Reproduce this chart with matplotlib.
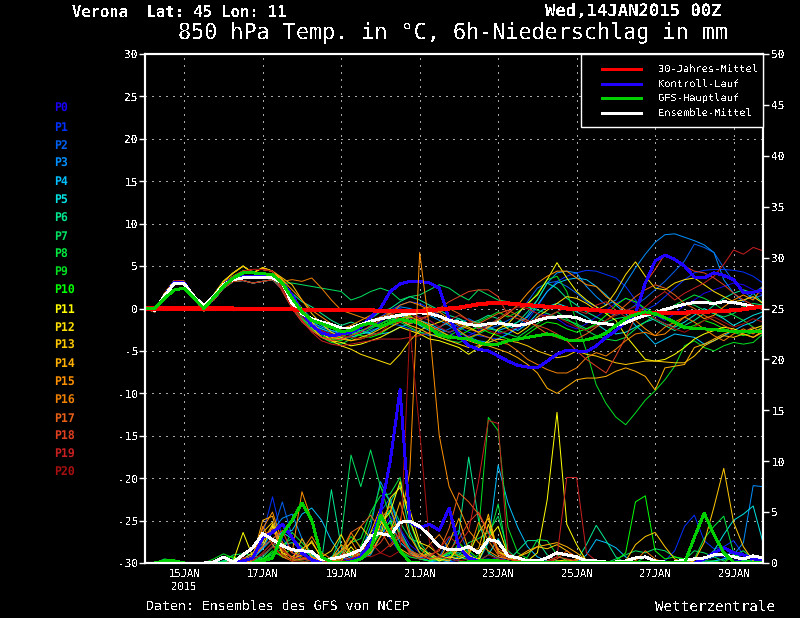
#imports
import numpy as np
import matplotlib
matplotlib.use("Agg")
import matplotlib.pyplot as plt
from matplotlib.lines import Line2D
from matplotlib.patches import Rectangle

plt.rcParams['font.family'] = ['DejaVu Sans Mono']
plt.rcParams['axes.unicode_minus'] = False
plt.rcParams['lines.antialiased'] = False
plt.rcParams['text.antialiased'] = False
plt.rcParams['text.hinting'] = 'none'

#labels and colors
member_names = ['P%d' % i for i in range(21)]
member_colors = ['#1a00f0', '#0030ff', '#0060f0', '#0090ff', '#00c0ff', '#00e0e0', '#00e890',
                 '#00e060', '#00e840', '#00e020', '#00ff00', '#ffff00', '#ffe000', '#ffc800',
                 '#ffb000', '#ff9000', '#f08000', '#e86018', '#e04020', '#c82020', '#a81010']
legend_names = ['30-Jahres-Mittel', 'Kontroll-Lauf', 'GFS-Hauptlauf', 'Ensemble-Mittel']
legend_colors = ['#ff0000', '#2000ff', '#00d000', '#ffffff']
date_ticks = [4, 12, 20, 28, 36, 44, 52, 60]
date_labels = ['15JAN\n2015', '17JAN', '19JAN', '21JAN', '23JAN', '25JAN', '27JAN', '29JAN']

#temperature, 6h steps, the members share the first 14 steps
start_a = [0, -0.4, 1.8, 3.3, 3.2, 1.2, -0.3, 1.4, 3.0, 3.8, 4.4, 4.6, 4.6, 4.4]
start_b = [0, -0.2, 1.6, 3.1, 3.0, 1.3, 0.2, 1.0, 2.4, 3.2, 3.3, 3.0, 3.2, 3.4]
start_c = [0, -0.3, 1.7, 3.2, 3.0, 1.3, 0.1, 1.6, 3.2, 4.2, 5.0, 4.2, 4.8, 4.4]

T_P0 = [2.4,0.6,-1.0,-2.2,-2.8,-3.2,-3.4, -3.2,-2.8,-2.2,-1.6,-0.6,0.0,-0.4,-1.0, -1.4,-2.2,-2.8,-3.6,-3.2,-2.6,-2.2,-2.8, -3.0,-2.4,-1.8,-1.0,-0.6,-1.2,-2.0,-2.4, -1.8,-1.0,-0.2,0.6,1.2,0.6,-0.2,-0.8, -1.4,-0.6,0.4,1.0,1.8,2.2,2.6,3.0, 2.8,2.2,1.6]
T_P1 = [2.8,1.0,-0.4,-1.6,-2.4,-3.0,-3.0, -2.6,-2.0,-1.6,-1.0,-0.2,0.4,0.8,0.6, 0.0,-0.8,-1.6,-2.2,-2.8,-3.2,-3.4,-3.6, -3.0,-2.2,-1.4,0.2,2.0,3.2,3.8,4.2, 4.5,4.4,4.0,3.6,2.6,1.0,-0.2,0.4, 1.4,2.4,3.4,4.2,4.5,4.6,4.6,4.5, 4.3,3.8,3.0]
T_P2 = [2.6,0.8,-0.8,-1.8,-2.6,-3.2,-3.6, -3.4,-3.0,-2.6,-2.2,-1.8,-2.0,-2.4,-2.8, -3.2,-3.0,-2.4,-1.8,-1.2,-1.8,-2.4,-2.0, -1.4,-0.8,0.8,2.4,3.0,3.2,2.6,1.8, 0.8,0.2,-0.4,-0.8,-0.4,0.4,1.2,2.2, 3.2,4.4,5.6,7.6,7.2,6.6,4.8,3.2, 2.0,1.2,1.6]
T_P3 = [3.0,1.5,0.0,-1.2,-2.0,-2.6,-3.0, -3.0,-2.6,-2.2,-1.4,-0.6,0.2,0.0,-0.4, -0.8,-1.4,-2.0,-2.8,-3.4,-3.8,-4.0,-3.6, -3.0,-2.2,-0.8,1.0,3.0,4.2,4.4,4.2, 2.6,1.4,0.4,1.0,3.0,4.8,6.4,7.8, 8.7,8.8,8.4,8.0,7.5,6.6,3.4,1.8, 0.8,1.8,2.6]
T_P4 = [2.6,0.6,-0.8,-1.6,-2.2,-2.6,-2.8, -2.4,-2.6,-3.0,-3.0,-2.8,-2.2,-1.8,-1.4, -1.8,-2.4,-2.8,-2.4,-1.8,-1.6,-2.2,-2.6, -2.2,-1.6,-1.0,0.4,2.0,3.0,3.4,3.6, 3.4,2.6,1.6,0.4,-0.6,-2.0,-3.0,-4.2, -3.6,-3.0,-3.2,-3.4,-4.2,-3.8,-3.2,-2.6, -2.0,-1.6,-0.8]
T_P5 = [2.2,0.4,-1.2,-2.0,-2.4,-2.8,-3.2, -3.4,-3.0,-2.8,-2.2,-1.6,-0.8,-1.2,-2.0, -2.6,-2.2,-1.6,-1.2,-1.8,-2.4,-1.8,-1.4, -2.0,-2.6,-1.8,-0.6,0.2,0.6,0.2,-0.4, -1.0,-1.8,-2.6,-3.0,-2.8,-2.2,-1.6,-1.2, -1.8,-2.2,-1.6,-0.8,0.0,-0.6,-1.2,-2.0, -1.4,-0.8,-0.4]
T_P6 = [2.8,1.8,0.8,0.2,-0.6,-1.4,-2.0, -1.6,-2.0,-1.2,-0.4,0.0,0.8,1.4,1.0, 0.4,-0.2,-0.8,-1.2,-1.8,-1.4,-0.8,-1.2, -2.2,-1.6,-0.4,1.0,3.0,2.4,1.2,0.4, -0.4,-1.0,-1.6,-2.2,-1.8,-1.2,-0.8,-1.4, -2.0,-2.6,-2.0,-1.4,-0.6,0.4,1.2,1.8, 2.2,1.8,0.6]
T_P7 = [3.0,3.0,2.8,2.6,2.4,2.2,2.0, 1.0,1.4,2.0,2.4,2.0,1.0,1.4,1.6, 2.2,2.8,2.4,1.6,1.0,2.2,1.6,1.0, 0.8,0.4,0.2,-0.2,-0.6,-1.0,-1.4,-1.8, -2.4,-2.0,-1.6,-1.2,-1.0,-0.6,-0.4,-0.8, -0.2,0.2,0.6,0.4,-0.2,-0.6,-1.0,-0.6, 0.2,0.6,0.4]
T_P8 = [2.6,0.6,-1.0,-2.4,-3.4,-4.0,-4.2, -3.6,-3.0,-2.4,-1.8,-1.2,-1.6,-2.2,-2.8, -3.0,-3.4,-3.8,-4.0,-3.6,-3.0,-2.4,-2.6, -3.0,-3.4,-2.6,-1.8,-1.0,-0.4,-1.2,-2.0, -2.6,-3.2,-3.6,-3.8,-3.4,-2.4,-1.6,-0.8, -0.4,0.4,1.0,1.6,1.2,0.6,-0.2,-0.8, -1.4,-2.2,-3.0]
T_P9 = [2.4,0.4,-1.2,-2.6,-3.2,-3.6,-3.8, -3.2,-2.6,-2.2,-1.8,-1.4,-0.6,-1.0,-1.6, -2.2,-2.8,-3.2,-2.6,-2.0,-1.6,-1.0,-0.4, -1.0,-0.4,0.4,1.8,3.4,3.8,2.0,-1.6, -5.0,-9.0,-11.2,-12.8,-13.7,-12.3,-10.8,-9.7, -8.4,-6.8,-4.4,-3.8,-4.6,-5.0,-4.4,-4.0, -4.2,-4.0,-3.0]
T_P10 = [3.0,1.0,-0.6,-2.0,-3.0,-3.6,-3.4, -2.8,-3.2,-3.4,-3.0,-2.2,-1.4,-0.8,-1.8, -2.4,-3.0,-3.6,-3.2,-2.6,-2.2,-2.8,-3.2, -3.6,-3.8,-3.0,-2.2,-1.6,-1.8,-2.4,-2.8, -2.4,-1.8,-0.8,0.4,1.2,0.8,0.0,-0.6, -1.2,-1.8,-2.4,-2.0,-1.4,-1.8,-2.4,-2.8, -3.2,-2.8,-2.2]
T_P11 = [3.2,1.2,-0.6,-2.2,-3.4,-3.8,-4.0, -4.4,-4.2,-3.8,-3.4,-2.8,-2.2,-2.6,-3.0, -3.6,-3.8,-4.2,-4.6,-5.4,-4.6,-3.8,-2.4, -1.8,-0.6,0.6,1.6,3.4,5.4,3.6,2.0, 1.0,0.2,-0.6,-1.4,-3.2,-4.6,-6.0,-6.2, -6.0,-5.4,-4.6,-3.6,-3.0,-2.6,-2.2,-2.4, -2.8,-2.4,-2.0]
T_P12 = [3.4,1.6,0.0,-1.6,-2.8,-3.8,-4.4, -4.8,-5.4,-5.8,-6.2,-6.6,-5.4,-3.8,-2.6, -2.0,-1.6,-1.2,-1.8,-2.2,-2.8,-2.2,-1.6, -2.4,-3.0,-2.2,-1.0,-0.2,0.6,1.4,1.2, 0.6,-0.2,0.4,2.0,4.0,5.5,3.8,2.4, 2.2,3.0,3.4,3.6,2.8,2.0,1.4,0.8, 1.0,1.4,0.6]
T_P13 = [3.6,2.8,1.0,-0.6,-1.8,-2.8,-3.4, -3.8,-3.4,-3.0,-2.4,-1.8,-1.4,-2.0,-2.4, -3.0,-3.4,-3.8,-4.2,-4.6,-4.4,-4.0,-3.6, -3.8,-4.0,-4.4,-5.0,-5.4,-5.8,-5.6,-5.0, -5.4,-5.6,-6.0,-6.4,-6.6,-6.4,-6.2,-6.2, -6.3,-6.4,-6.4,-5.6,-4.4,-3.8,-3.2,-3.4, -3.0,-3.4,-2.8]
T_P14 = [3.2,1.4,-0.4,-2.0,-3.0,-3.4,-3.6, -3.8,-3.6,-3.2,-2.8,-2.2,-1.6,-1.0,-1.4, -2.0,-2.6,-3.2,-3.4,-3.8,-4.2,-4.4,-4.8, -5.2,-5.8,-6.6,-7.6,-9.4,-10.0,-9.2,-8.4, -8.2,-8.2,-8.0,-7.4,-7.0,-7.4,-8.0,-9.6, -7.0,-6.8,-6.6,-4.6,-4.2,-3.6,-3.0,-2.6, -3.0,-3.4,-2.6]
T_P15 = [3.4,2.2,1.0,-0.2,-1.0,-1.8,-2.4, -2.0,-1.4,-0.8,-0.4,-0.6,-1.2,-0.8,-0.2, 0.2,-0.4,-1.2,-2.0,-2.4,-2.8,-2.2,-1.4, -0.6,0.4,1.8,3.0,3.8,4.4,4.4,3.6, 2.8,2.6,1.4,0.6,-0.2,-1.4,-2.4,-3.2, -3.0,-2.0,-1.0,-0.4,-1.2,-0.8,0.2,1.0, 1.6,1.0,2.6]
T_P16 = [3.2,3.4,3.2,3.6,2.4,1.0,-0.2, -0.6,-1.0,-1.4,-1.0,-0.6,0.4,0.8,0.4, -0.2,-1.0,-1.8,-2.6,-3.4,-3.0,-3.4,-4.0, -4.2,-5.0,-6.0,-6.6,-7.2,-7.6,-7.6,-7.0, -5.8,-5.2,-5.6,-4.8,-3.8,-3.0,-2.8,-3.2, -2.2,-1.6,-1.0,-1.6,-2.4,-3.2,-3.8,-3.0, -2.4,-3.0,-2.2]
T_P17 = [2.4,0.2,-1.4,-2.6,-3.4,-3.6,-3.2, -2.8,-2.2,-1.8,-1.2,-0.8,-1.4,-1.8,-1.4, -0.8,-0.4,0.0,-0.6,-1.4,-1.8,-1.2,-0.6, -0.2,-0.8,-1.4,-2.2,-3.0,-3.4,-3.8,-3.6, -3.0,-2.2,-1.4,-0.6,0.4,1.4,2.2,2.8, 2.4,1.6,0.6,0.0,-0.8,-1.4,-2.0,-2.6, -2.8,-2.2,-3.0]
T_P18 = [2.0,0.0,-1.6,-2.6,-3.4,-3.8,-3.6, -3.2,-2.8,-2.0,-1.4,-0.8,-0.2,-0.6,-1.2, -0.8,0.0,0.8,1.4,2.0,2.2,2.2,1.4, -0.8,-1.2,-1.6,-2.0,-2.4,-3.0,-3.8,-5.0, -6.0,-6.8,-7.6,-5.6,-3.4,-1.0,3.0,4.6, 6.4,5.8,5.0,4.4,4.2,3.6,2.8,1.8, 1.0,0.4,-0.2]
T_P19 = [2.2,0.2,-1.4,-2.8,-3.8,-4.2,-4.4, -4.2,-4.0,-3.8,-3.6,-3.6,-3.6,-3.4,-3.2, -2.8,-2.2,-1.4,-0.8,-1.4,-2.4,-2.0,-1.2, -0.4,0.2,0.0,-0.6,-1.0,-0.4,0.2,-0.2, -0.6,0.4,0.8,-0.2,-1.0,-0.6,0.2,1.2, 2.0,1.0,1.8,2.4,3.0,3.8,5.2,6.9, 6.4,7.2,6.8]
T_P20 = [2.4,0.4,-1.0,-2.0,-2.6,-3.0,-3.2, -3.4,-3.6,-3.2,-2.8,-1.8,-1.6,-1.2,-1.0, -1.4,-2.2,-2.8,-2.2,-1.6,-2.0,-2.6,-3.0, -2.6,-2.2,-1.6,-1.2,-0.8,-1.0,-1.6,-2.2, -2.6,-2.0,-1.4,-0.8,-0.2,0.2,-0.4,-1.2, -1.8,-2.4,-2.8,-2.2,-1.4,-1.0,-1.6,-2.2, -1.8,-1.2,-1.6]
temp_members = [T_P0, T_P1, T_P2, T_P3, T_P4, T_P5, T_P6, T_P7, T_P8, T_P9, T_P10,
                T_P11, T_P12, T_P13, T_P14, T_P15, T_P16, T_P17, T_P18, T_P19, T_P20]
temp_starts = [start_b, start_b, start_a, start_b, start_a, start_b, start_c, start_a, start_b, start_c, start_a,
               start_c, start_c, start_a, start_c, start_a, start_b, start_a, start_a, start_b, start_a]

temp_clim = [0,0,0,0,0,0,0,0,0,0,-0.1,-0.1,-0.1,-0.1,-0.1,-0.1, -0.2,-0.2,-0.2,-0.2,-0.2,-0.2,-0.2,-0.2, -0.3,-0.3,-0.3,-0.3,-0.3,-0.2,-0.1,0.0, 0.1,0.3,0.5,0.6,0.6,0.6,0.5,0.4, 0.3,0.2,0.2,0.0,-0.1,-0.1,-0.2,-0.3, -0.4,-0.4,-0.5,-0.5,-0.5,-0.5,-0.5,-0.5, -0.4,-0.4,-0.3,-0.3,-0.2,-0.1,0.1,0.2]
temp_ctrl = [0,-0.2,1.5,3.1,3.0,1.3,0.2,1.4,2.8,3.6,3.8,3.8,3.8,3.8, 3.0,1.6,-0.4,-2.0,-2.9,-3.2,-3.0,-2.8,-2.2,-1.0,0.0,2.0,2.9,3.2,3.2,3.0,2.4,-1.2,-3.2,-4.4,-4.8,-5.0,-5.6,-6.2,-6.7,-6.9,-7.0,-6.2,-5.4,-4.9,-5.0,-5.1,-4.4,-3.4,-2.6,-1.6,-0.6,3.0,5.6,6.3,5.8,5.0,3.7,3.6,4.2,3.9,3.4,1.9,1.9,2.2]
temp_gfs = [0,0,1.2,2.2,2.4,1.2,0.0,1.3,2.6,3.6,4.2,4.2,4.1,4.0, 3.0,1.2,-0.4,-1.4,-1.8,-2.2,-2.7,-2.6,-2.0,-1.7,-2.1,-1.7,-1.3,-1.5,-1.7,-2.3,-3.2,-3.3,-3.5,-3.6,-4.0,-4.3,-4.2,-3.8,-3.6,-3.4,-3.2,-3.0,-3.2,-3.7,-3.8,-3.7,-3.4,-2.9,-2.0,-1.2,-0.7,-0.4,-0.6,-1.1,-1.6,-2.2,-2.4,-2.4,-2.5,-2.6,-2.7,-2.7,-2.7,-2.7]
temp_mean = [0,-0.2,1.5,3.0,2.9,1.4,0.3,1.4,2.8,3.4,3.6,3.6,3.6,3.6, 3.0,0.6,-0.6,-1.2,-1.6,-1.9,-2.3,-2.3,-1.9,-1.5,-1.2,-1.0,-0.8,-0.6,-0.5,-0.6,-0.9,-1.4,-1.6,-1.9,-2.0,-1.8,-1.7,-1.9,-2.0,-1.8,-1.4,-1.1,-1.0,-0.9,-1.1,-1.5,-1.7,-1.8,-2.0,-1.7,-1.2,-0.8,-0.5,-0.1,0.2,0.5,0.7,0.7,0.6,0.8,0.7,0.5,0.2,0.2]

#precipitation, 6h steps
R_P0 = [0,0,0,0,0,0,0,0, 0.2,0.4,0.2,0.8,2.4,3.2,2.0,1.0, 0.4,0.2,0,0,0.2,0.6,0.4,1.8, 3.0,4.6,3.4,1.8,1.0,0.4,0.2,0.8, 0.2,0,0,0.2,0.6,0.2,0,0, 0,0,0,0,0.2,0.3,0,0, 0,0,0,0,0,0,0,0, 0,0.4,0.8,0.6,0.3,0.2,0.2,0.2]
R_P1 = [0,0,0,0,0,0,0,0, 0,0.1,0.4,1.0,2.8,6.5,2.4,1.2, 0.8,0.4,0,0,0.1,0.3,0.6,1.2, 3.6,2.4,1.0,0.6,0.4,1.0,0.4,0.2, 0,0,0.3,0.4,0.2,0,0,0, 0,0,0,0,0,0,0,0, 0,0,0,0,0,0.2,1.2,3.6, 4.7,2.2,1.4,1.6,2.2,0.8,0.2,0.2]
R_P2 = [0,0,0,0,0,0,0,0, 0.1,0.2,0.1,0.6,1.8,3.0,6.0,2.6, 1.0,0.2,0.2,0,0,0.2,0.4,2.2, 5.0,6.4,3.2,1.2,0.6,0.2,0.6,2.4, 3.2,1.0,0.2,0,0,0.2,0,0, 0,0,0,0,0,0,0,0, 0,0,0,0,0,0,0,0, 0,0.2,0.6,0.8,1.0,0.4,0.6,0.2]
R_P3 = [0,0,0,0,0,0,0,0, 0.2,0.3,0.2,0.4,1.4,3.2,4.4,4.8, 2.4,0.8,0,0.2,0.6,0.2,1.0,3.6, 8.0,6.0,3.2,1.4,0.6,0.2,0.2,0.4, 0.2,0.1,0,0,0,0,0,0, 0,0,0,0,0,0,0,0, 0,0,0,0,0,0,0,0, 0,0.1,0.2,0.4,0.8,2.0,7.6,7.5]
R_P4 = [0,0,0,0,0,0,0,0, 0,0.2,0.4,0.6,1.4,2.4,3.0,3.2, 4.8,5.4,4.2,2.2,0.8,0.2,0.4,0.8, 2.6,4.2,2.0,1.2,0.4,0.2,0,0.2, 0.6,0.3,0.2,2.0,9.6,5.9,3.5,1.6, 0.6,0.2,0,0,0,0.8,2.3,2.0, 1.5,0.6,0,0,0,0,0,0, 0,0,0.2,0.4,0.8,0.2,0.2,0.1]
R_P5 = [0,0,0,0,0,0,0,0, 0.1,0.3,0.2,0.3,0.8,1.6,3.0,2.4, 1.4,0.6,0.2,0.6,1.2,0.4,1.4,3.0, 4.0,5.2,2.8,1.0,0.4,0.2,0.4,1.0, 1.0,0.4,0.2,0.8,2.4,0.8,0.2,0, 0,0,0,0,0,0,0.2,0, 0,0,0,0,0,0,0,0, 0,0.4,1.2,2.8,4.2,4.8,5.6,2.0]
R_P6 = [0,0,0.3,0.1,0,0,0,0, 0.2,0.3,0.2,0.2,0.6,1.6,1.8,2.0, 1.4,0.8,0.2,7.2,1.6,0.6,0.8,1.4, 3.2,6.0,7.6,3.0,1.0,0.4,0.6,0.8, 3.0,10.4,4.2,1.0,0.4,0.2,1.2,2.2, 2.2,0.8,0.2,0,0.2,1.8,3.7,2.2, 0.6,0,0,0,0,0,0,0, 0,0,0,0,0,0,0,0]
R_P7 = [0,0,0.4,0.2,0,0,0,0, 0.2,0.8,0.9,0.8,0.4,1.0,1.8,2.4, 1.6,0.6,0.2,0.4,2.6,10.6,7.5,11.1, 7.5,6.0,4.0,2.4,2.0,0.8,0.4,0.6, 0.8,2.0,2.4,3.0,4.6,1.2,0.4,0.2, 0,0,0,0,0.2,0,0,0, 0.4,0.8,1.2,1.0,1.4,1.2,0.6,0.3, 1.2,1.0,0.6,0.2,0.8,1.2,0.4,0.2]
R_P8 = [0,0,0.2,0.3,0,0,0,0, 0.1,0.4,0.3,0.2,0.4,0.8,1.4,3.0, 2.0,1.0,0.4,0.2,1.0,2.0,2.4,5.0, 6.6,6.8,8.4,4.0,1.4,0.6,0.4,1.2, 0.8,0.2,0.8,2.2,5.8,0.6,0.2,0.6, 2.3,2.2,0.8,0.2,0,0,0,0, 0,0,0,0.6,0,0,0,0, 0.4,2.4,3.6,4.6,1.0,0.2,0.1,0.1]
R_P9 = [0,0,0,0,0,0,0,0.4, 0.9,0.5,0.3,0.1,0.3,1.0,0.8,1.4, 0.4,0.2,0,0.2,1.2,2.6,1.6,4.2, 7.6,4.4,3.0,1.2,0.8,0.4,0.2,0.4, 2.0,1.0,3.0,14.3,13.0,3.5,1.0,0.4, 0,0,0,0,0,0,0,0, 0,0,0,0,0,0,0,0, 0,0,0,0,0,0,0,0]
R_P10 = [0,0,0,0,0,0,0,0.2, 0.6,0.6,0.3,0.1,0.4,1.2,0.6,0.4, 0.2,0,0,0.2,0.6,1.2,0.8,1.4, 3.0,4.0,1.2,0.6,0.4,0.2,0.6,1.0, 0.6,1.2,0.4,0.2,0,0,0,0, 0,0,0,0,0,0,0,0, 0.2,1.0,6.0,6.6,1.2,0.4,0.6,0.4, 0.4,0.2,0.2,0,0.8,0.4,0.1,0]
R_P11 = [0,0,0,0,0,0,0,0, 0,0.2,3.0,0.6,1.6,3.6,0.8,0.2, 0.4,0.6,0,0.2,0.2,1.6,0.4,1.2, 3.8,5.0,8.0,4.2,1.6,0.8,0.2,0.6, 0.4,0.8,0.2,2.4,3.6,0.8,0.4,0.2, 1.0,6.2,14.8,3.8,1.8,0.2,0,0, 0,0,0,0,0,0,0,0, 0,0,0,0,0,0,0,0]
R_P12 = [0,0,0,0,0,0,0,0, 0,0.1,0.4,1.0,2.0,3.8,1.0,0.6, 1.4,2.0,0.6,1.2,2.8,0.8,0.4,1.0, 2.6,6.4,7.4,5.2,2.0,1.6,0.8,0.4, 1.4,0.6,0.4,3.8,1.2,0.6,0.2,0.2, 0,0,0.2,0.3,0.2,0,0,0, 0,0,0,0,0,0,0,0, 0,0,0,0,0,0,0,0]
R_P13 = [0,0,0,0,0,0,0,0, 0,0,0.2,0.6,3.0,4.0,1.6,0.4, 0.8,2.2,0.4,0.4,1.2,2.0,3.6,2.4, 4.2,2.6,1.4,0.8,0.6,1.0,0.4,0.2, 1.8,0.8,3.0,4.4,1.0,0.6,0.6,1.0, 1.6,1.4,1.8,1.2,0.4,0.2,0,0, 0,0.2,1.8,2.6,3.0,1.6,0.4,0, 0.2,2.0,5.5,9.3,4.0,1.6,0.2,0.1]
R_P14 = [0,0,0,0,0,0,0,0, 0,0.1,0.2,0.6,4.2,4.6,1.0,0.2, 2.4,0.6,0.2,0.4,1.8,1.0,0.6,3.0, 5.4,3.0,6.0,2.6,1.0,0.4,0.4,2.0, 4.4,1.2,1.4,4.8,1.0,0.8,0.6,1.2, 1.6,1.8,2.0,1.6,1.0,0.3,0,0, 0,0,0,0,0,0,0,0, 0,0,0,0,0,0,0,0]
R_P15 = [0,0,0,0,0,0,0,0, 0,0,0.2,0.8,3.4,5.0,2.0,1.0, 7.0,4.2,0.4,0.2,0.4,2.2,0.6,1.0, 2.6,3.4,4.0,9.0,30.5,23.0,12.5,7.5, 5.5,3.2,2.0,1.2,0.6,0.4,0.2,0, 0,0,0,0,0,0,0,0, 0,0,0,0,0,0,0,0, 0,0,0,0,0,0,0,0]
R_P16 = [0,0,0,0,0,0,0,0, 0,0,0.1,0.4,3.6,1.8,0.6,0.2, 1.2,2.6,1.0,0.4,1.2,3.0,1.4,2.4, 4.2,5.6,2.4,1.2,0.6,1.8,2.8,1.4, 0.6,1.0,4.0,2.2,0.8,0.4,0.2,0, 0,0,0,0,0.4,0.2,0,0, 0,0,0.2,1.2,0.4,0,0,0, 0,0,0,0,0,0,0,0]
R_P17 = [0,0,0,0,0,0,0,0, 0,0,0.1,0.2,2.6,3.4,1.2,0.6, 0.4,0.6,0.2,0.2,0.6,3.0,3.6,4.7, 3.2,1.6,2.6,1.0,0.6,0.8,1.2,3.4, 6.9,6.0,4.8,3.0,1.4,0.8,0.2,0.2, 0,0,0.4,1.2,0.6,0.2,0,0, 0,0,0,0,0,0,0,0, 0,0,0,0,0,0,0,0]
R_P18 = [0,0,0,0,0,0,0,0, 0,0.1,0.3,0.6,1.6,2.4,3.2,1.0, 0.6,0.2,0,0.2,0.8,1.0,0.4,1.2, 2.0,3.4,2.4,1.2,0.8,0.4,0.6,1.2, 2.4,4.0,5.0,3.0,1.0,0.4,0.2,0, 0,0.2,0.6,0.4,0.2,0,0,0, 0,0,0,0,0,0,0,0, 0,0,0,0,0,0,0,0]
R_P19 = [0,0,0,0,0,0,0,0, 0,0.2,0.6,0.2,1.0,2.0,1.4,0.4, 0.4,0.2,0,0.4,0.6,0.4,1.2,2.0, 1.0,1.8,3.0,0.8,0.4,0.6,1.4,2.6, 1.8,3.2,8.0,14.0,13.7,1.0,0.4,0.2, 0,0,0.6,8.4,8.4,1.0,0.2,0, 0,0,0,0,0,0,0,0, 0,0,0,0,0,0,0,0]
R_P20 = [0,0,0,0,0,0,0,0.2, 0.6,0.1,0.4,0.4,0.8,1.6,0.8,0.2, 0.2,0,0,0,0.2,0.4,0.8,0.6, 1.0,0.6,1.2,23.0,13.0,2.0,0.6,0.4, 0.2,0.4,0.2,0.8,0.4,0.2,0,0, 0,0,0,0,0,0,0,0, 0,0,0,0,0,0,0,0, 0,0,0,0,0,0,0,0]
rain_members = [R_P0, R_P1, R_P2, R_P3, R_P4, R_P5, R_P6, R_P7, R_P8, R_P9, R_P10,
                R_P11, R_P12, R_P13, R_P14, R_P15, R_P16, R_P17, R_P18, R_P19, R_P20]

rain_ctrl = [0,0,0,0,0,0,0,0, 0,0,0.2,0.5,2.5,3.0,3.8,2.5, 1.0,0.3,0,0,0,0.2,0.6,2.0, 5.0,10.0,17.0,4.0,3.5,3.8,3.2,5.4, 1.6,0.5,0.2,0,0,0,0,0, 0,0,0,0,0,0,0,0, 0,0,0,0,0,0,0,0, 0,0.4,1.0,1.5,1.0,0.8,0.4,0.3]
rain_gfs = [0,0,0.2,0.2,0,0,0,0, 0,0,0,0,0.2,0.5,2.8,4.2, 5.9,4.2,0.6,0.1,0.1,0.1,0.4,1.3, 4.7,3.0,1.2,0.1,0,0,0,0, 0,0.1,0.2,0.2,0.2,0.1,0.1,0.1, 0.1,0.1,0.1,0.1,0.1,0.1,0.1,0.1, 0.1,0.1,0.1,0.1,0.1,0.1,0.1,0, 2.5,4.9,2.8,1.0,0.1,0.1,0.1,0.1]
rain_mean = [0,0,0.1,0.1,0,0,0,0.1, 0.6,0.1,0.8,1.5,2.9,2.3,1.7,1.3, 1.2,1.1,0.3,0.4,0.6,0.9,1.3,2.7, 2.9,2.7,4.0,4.1,3.6,2.7,1.6,1.3, 1.3,1.6,1.0,2.3,2.1,0.7,0.5,0.2, 0.2,0.5,1.0,0.8,0.6,0.2,0.2,0.1, 0.1,0.2,0.5,0.6,0.2,0.1,0.1,0.3, 0.4,0.5,0.8,0.8,0.6,0.4,0.7,0.5]


#pixel helpers for the parts placed on the figure
def fx(px):
    return px / 800

def fy(py):
    return 1 - py / 618

def plot():
    fig = plt.figure(figsize=(8, 6.18), facecolor='black')
    ax = fig.add_axes([fx(145), fy(563), (763 - 145) / 800, (563 - 54) / 618], facecolor='black')
    ax2 = ax.twinx()

    #members go first, the thick lines on top
    for start, temp, rain, color in zip(temp_starts, temp_members, rain_members, member_colors):
        series = start + temp
        ax.plot(range(len(series)), series, color=color, lw=0.72, antialiased=True)
        ax2.plot(range(len(rain)), rain, color=color, lw=0.72, antialiased=True)

    ax.plot(range(len(temp_ctrl)), temp_ctrl, color=legend_colors[1], lw=1.4)
    ax.plot(range(len(temp_mean)), temp_mean, color=legend_colors[3], lw=1.4)
    ax.plot(range(len(temp_clim)), temp_clim, color=legend_colors[0], lw=2.2)
    ax.plot(range(len(temp_gfs)), temp_gfs, color=legend_colors[2], lw=1.4)
    ax2.plot(range(len(rain_ctrl)), rain_ctrl, color=legend_colors[1], lw=1.4)
    ax2.plot(range(len(rain_mean)), rain_mean, color=legend_colors[3], lw=1.4)
    ax2.plot(range(len(rain_gfs)), rain_gfs, color=legend_colors[2], lw=1.4)

    #scales
    ax.set_xlim(0, 63)
    ax.set_ylim(-30, 30)
    ax2.set_ylim(0, 50)
    ax.set_yticks(range(-30, 31, 5))
    ax.set_yticklabels([str(v) for v in range(-30, 31, 5)])
    ax2.set_yticks(range(0, 51, 5))
    ax.set_xticks(date_ticks)
    ax.set_xticklabels(date_labels)
    ax.tick_params(axis='y', colors='white', labelsize=8, length=4, width=1, pad=1)
    ax.tick_params(axis='x', colors='white', labelsize=7.6, length=0, pad=4)
    ax2.tick_params(axis='y', colors='white', labelsize=8, length=4, width=1, pad=2)
    ax.grid(True, color='#a8a8a8', lw=0.6, linestyle=(0, (1.5, 7)))
    ax.set_axisbelow(True)
    for axis in (ax, ax2):
        for side in axis.spines:
            axis.spines[side].set_color('white')
            axis.spines[side].set_linewidth(1.5)

    #member list on the left, bold and smoothed so the dark colors stay readable
    for i, (name, color) in enumerate(zip(member_names, member_colors)):
        fig.text(fx(54), fy(109 + i * 18.2), name, color=color, fontsize=8.3, fontweight='bold', va='center', antialiased=True)

    #legend box
    fig.add_artist(Rectangle((fx(581), fy(127)), 182 / 800, 73 / 618, transform=fig.transFigure,
                             facecolor='black', edgecolor='white', lw=1, zorder=10))
    for i, (name, color) in enumerate(zip(legend_names, legend_colors)):
        py = 69 + i * 14.6
        fig.add_artist(Line2D([fx(602), fx(641)], [fy(py), fy(py)], transform=fig.transFigure,
                              color=color, lw=2.1, zorder=11))
        fig.text(fx(658), fy(py), name, color='white', fontsize=7.5, va='center', zorder=11)

    #titles and credits
    fig.text(fx(72), fy(12), 'Verona  Lat: 45 Lon: 11', color='white', fontsize=11.2, fontweight='bold', va='center')
    fig.text(fx(545), fy(12), 'Wed,14JAN2015 00Z', color='white', fontsize=12.4, fontweight='bold', va='center')
    fig.text(fx(178), fy(33), '850 hPa Temp. in °C, 6h-Niederschlag in mm', color='white', fontsize=15.7, va='center')
    fig.text(fx(146), fy(607), 'Daten: Ensembles des GFS von NCEP', color='white', fontsize=9.5, va='center')
    fig.text(fx(655), fy(607), 'Wetterzentrale', color='white', fontsize=10.3, va='center')

    fig.savefig('out.png', dpi=100, facecolor='black')

def main():
    plot()

if __name__ == "__main__":
    main()
